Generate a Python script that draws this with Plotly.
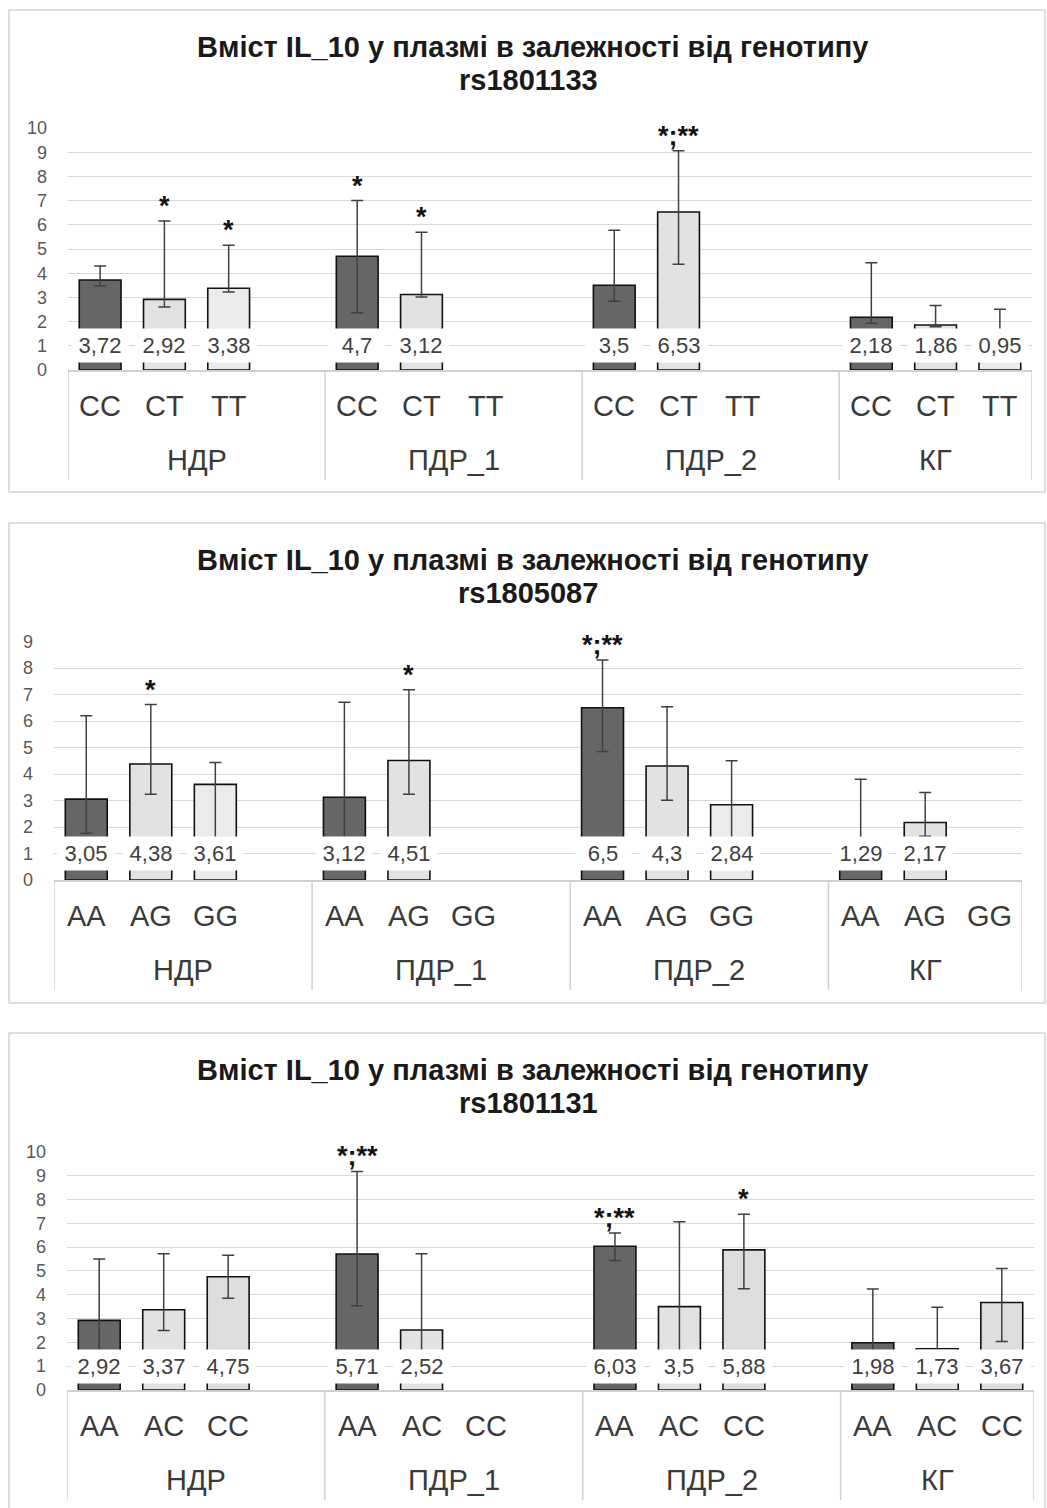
import plotly.graph_objects as go

W, H = 1047, 1508

# ---------------- data ----------------
groups = ["НДР", "ПДР_1", "ПДР_2", "КГ"]

# chart 1: rs1801133
rs1801133_genotypes = ["CC", "CT", "TT"]
rs1801133_CC = [3.72, 4.70, 3.50, 2.18]
rs1801133_CT = [2.92, 3.12, 6.53, 1.86]
rs1801133_TT = [3.38, None, None, 0.95]
rs1801133_CC_hi = [4.30, 7.00, 5.77, 4.43]
rs1801133_CT_hi = [6.16, 5.69, 9.06, 2.67]
rs1801133_TT_hi = [5.15, None, None, 2.51]
rs1801133_CC_lo = [3.47, 2.37, 2.84, 1.93]
rs1801133_CT_lo = [2.60, 3.02, 4.37, 1.79]
rs1801133_TT_lo = [3.22, None, None, 0.60]
rs1801133_CC_sig = ["", "*", "", ""]
rs1801133_CT_sig = ["*", "*", "*;**", ""]
rs1801133_TT_sig = ["*", "", "", ""]

# chart 2: rs1805087
rs1805087_genotypes = ["AA", "AG", "GG"]
rs1805087_AA = [3.05, 3.12, 6.50, 1.29]
rs1805087_AG = [4.38, 4.51, 4.30, 2.17]
rs1805087_GG = [3.61, None, 2.84, None]
rs1805087_AA_hi = [6.20, 6.71, 8.30, 3.80]
rs1805087_AG_hi = [6.62, 7.18, 6.54, 3.30]
rs1805087_GG_hi = [4.43, None, 4.50, None]
rs1805087_AA_lo = [1.76, 0.90, 4.85, 0.70]
rs1805087_AG_lo = [3.24, 3.24, 3.01, 1.65]
rs1805087_GG_lo = [1.00, None, 1.00, None]
rs1805087_AA_sig = ["", "", "*;**", ""]
rs1805087_AG_sig = ["*", "*", "", ""]
rs1805087_GG_sig = ["", "", "", ""]

# chart 3: rs1801131
rs1801131_genotypes = ["AA", "AC", "CC"]
rs1801131_AA = [2.92, 5.71, 6.03, 1.98]
rs1801131_AC = [3.37, 2.52, 3.50, 1.73]
rs1801131_CC = [4.75, None, 5.88, 3.67]
rs1801131_AA_hi = [5.50, 9.17, 6.59, 4.24]
rs1801131_AC_hi = [5.72, 5.72, 7.06, 3.47]
rs1801131_CC_hi = [5.65, None, 7.37, 5.10]
rs1801131_AA_lo = [1.00, 3.54, 5.43, 1.00]
rs1801131_AC_lo = [2.50, 1.00, 1.00, 1.00]
rs1801131_CC_lo = [3.85, None, 4.25, 2.04]
rs1801131_AA_sig = ["", "*;**", "*;**", ""]
rs1801131_AC_sig = ["", "", "", ""]
rs1801131_CC_sig = ["", "", "*", ""]

title_main = "Вміст IL_10 у плазмі в залежності від генотипу"

charts = [
    dict(snp="rs1801133", genos=rs1801133_genotypes,
         vals=[rs1801133_CC, rs1801133_CT, rs1801133_TT],
         his=[rs1801133_CC_hi, rs1801133_CT_hi, rs1801133_TT_hi],
         los=[rs1801133_CC_lo, rs1801133_CT_lo, rs1801133_TT_lo],
         sigs=[rs1801133_CC_sig, rs1801133_CT_sig, rs1801133_TT_sig],
         ymax=10, box=(9, 10, 1045, 492), plot=(68, 1032, 128, 370),
         colors=["#666666", "#e2e2e2", "#ebebeb"]),
    dict(snp="rs1805087", genos=rs1805087_genotypes,
         vals=[rs1805087_AA, rs1805087_AG, rs1805087_GG],
         his=[rs1805087_AA_hi, rs1805087_AG_hi, rs1805087_GG_hi],
         los=[rs1805087_AA_lo, rs1805087_AG_lo, rs1805087_GG_lo],
         sigs=[rs1805087_AA_sig, rs1805087_AG_sig, rs1805087_GG_sig],
         ymax=9, box=(9, 523, 1045, 1003), plot=(54, 1022, 641.5, 880),
         colors=["#666666", "#e2e2e2", "#ebebeb"]),
    dict(snp="rs1801131", genos=rs1801131_genotypes,
         vals=[rs1801131_AA, rs1801131_AC, rs1801131_CC],
         his=[rs1801131_AA_hi, rs1801131_AC_hi, rs1801131_CC_hi],
         los=[rs1801131_AA_lo, rs1801131_AC_lo, rs1801131_CC_lo],
         sigs=[rs1801131_AA_sig, rs1801131_AC_sig, rs1801131_CC_sig],
         ymax=10, box=(9, 1033, 1045, 1530), plot=(67, 1034, 1151.7, 1390),
         colors=["#666666", "#e2e2e2", "#dddddd"]),
]

FONT = "Liberation Sans, Arial, sans-serif"


def px(x):
    return x / W


def py(y):
    return 1 - y / H


def slot(g, i):
    return 4 * g + i


fig = go.Figure()
annotations = []
shapes = []
layout_axes = {}

for k, ch in enumerate(charts, start=1):
    xa = "x" if k == 1 else f"x{k}"
    ya = "y" if k == 1 else f"y{k}"
    xkey = "xaxis" if k == 1 else f"xaxis{k}"
    ykey = "yaxis" if k == 1 else f"yaxis{k}"
    left, right, top, bottom = ch["plot"]

    for i, geno in enumerate(ch["genos"]):
        xs, ys, plus, minus = [], [], [], []
        for g in range(len(groups)):
            v = ch["vals"][i][g]
            if v is None:
                continue
            xs.append(slot(g, i))
            ys.append(v)
            plus.append(ch["his"][i][g] - v)
            minus.append(v - ch["los"][i][g])
        fig.add_trace(go.Bar(
            x=xs, y=ys, width=0.65, xaxis=xa, yaxis=ya,
            marker=dict(color=ch["colors"][i], line=dict(color="#111111", width=1.6)),
            error_y=dict(type="data", symmetric=False, array=plus, arrayminus=minus,
                         color="#404040", thickness=1.5, width=6),
            showlegend=False, hoverinfo="skip",
        ))
        for g in range(len(groups)):
            v = ch["vals"][i][g]
            if v is None:
                continue
            annotations.append(dict(
                x=slot(g, i), y=1, xref=xa, yref=ya, showarrow=False,
                text=f"{v:g}".replace(".", ","), bgcolor="white",
                width=54, height=31, borderpad=1, yanchor="middle",
                font=dict(family=FONT, size=22, color="#404040")))
            s = ch["sigs"][i][g]
            if s:
                annotations.append(dict(
                    x=slot(g, i), y=ch["his"][i][g], xref=xa, yref=ya,
                    showarrow=False, text=f"<b>{s}</b>", yanchor="bottom", yshift=-2,
                    font=dict(family=FONT, size=27, color="#111111")))
        # genotype labels under every slot
        for g in range(len(groups)):
            annotations.append(dict(
                x=slot(g, i), y=py(bottom + 36), xref=xa, yref="paper",
                showarrow=False, text=geno, yanchor="middle",
                font=dict(family=FONT, size=29, color="#3a3a3a")))

    # group labels and separators
    bounds = [-0.5, 3.5, 7.5, 11.5, 14.5]
    for g, name in enumerate(groups):
        annotations.append(dict(
            x=(bounds[g] + bounds[g + 1]) / 2, y=py(bottom + 90), xref=xa, yref="paper",
            showarrow=False, text=name, yanchor="middle",
            font=dict(family=FONT, size=29, color="#3a3a3a")))
    for b in bounds:
        shapes.append(dict(type="line", xref=xa, yref="paper", x0=b, x1=b,
                           y0=py(bottom), y1=py(bottom + 110),
                           line=dict(color="#d0d0d0", width=1.5)))

    # title
    bx0, by0, bx1, by1 = ch["box"]
    annotations.append(dict(x=px(533), y=py(by0 + 37), xref="paper", yref="paper",
                            showarrow=False, text=f"<b>{title_main}</b>", yanchor="middle",
                            font=dict(family=FONT, size=29, color="#1a1a1a")))
    annotations.append(dict(x=px(528), y=py(by0 + 70), xref="paper", yref="paper",
                            showarrow=False, text=f"<b>{ch['snp']}</b>", yanchor="middle",
                            font=dict(family=FONT, size=29, color="#1a1a1a")))
    # chart border
    shapes.append(dict(type="rect", xref="paper", yref="paper",
                       x0=px(bx0), x1=px(bx1), y0=py(by0), y1=py(by1),
                       line=dict(color="#d4d4d4", width=1.5), layer="below"))

    layout_axes[xkey] = dict(domain=[px(left), px(right)], range=[-0.5, 14.5],
                             anchor=ya, showgrid=False, showticklabels=False,
                             zeroline=False, showline=True, linecolor="#d0d0d0",
                             linewidth=1.5, fixedrange=True, automargin=False)
    layout_axes[ykey] = dict(domain=[py(bottom), py(top)], range=[0, ch["ymax"]],
                             anchor=xa, dtick=1, tick0=0, showgrid=True,
                             gridcolor="#d9d9d9", gridwidth=1.3, zeroline=False,
                             showline=False, ticks="", ticklabelstandoff=20,
                             tickfont=dict(family=FONT, size=18, color="#595959"),
                             fixedrange=True, automargin=False)

fig.update_layout(
    width=W, height=H, margin=dict(l=0, r=0, t=0, b=0, pad=0, autoexpand=False),
    paper_bgcolor="white", plot_bgcolor="white",
    barmode="overlay", showlegend=False,
    annotations=annotations, shapes=shapes, **layout_axes,
)

fig.write_html("out.html")
